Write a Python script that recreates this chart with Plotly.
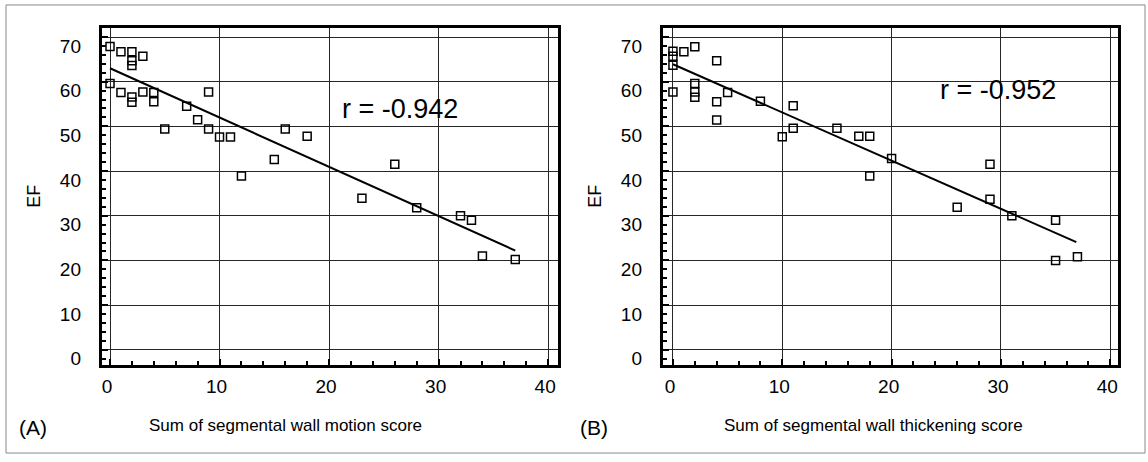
import plotly.graph_objects as go

W, H = 1148, 462

# Panel A: wall motion score vs EF
wm_score = [0, 1, 2, 2, 2, 3, 0, 1, 2, 2, 3, 4, 4, 9, 7, 8, 5, 9, 10, 11, 16, 15, 12, 18, 26, 23, 28, 32, 33, 34, 37]
wm_ef = [67.9, 66.7, 66.7, 64.7, 63.6, 65.7, 59.6, 57.6, 56.6, 55.4, 57.7, 57.6, 55.5, 57.7, 54.5, 51.5,
         49.4, 49.4, 47.6, 47.6, 49.4, 42.6, 38.9, 47.8, 41.5, 33.9, 31.8, 30.0, 29.0, 21.0, 20.2]
wm_fit_x = [0, 37]
wm_fit_y = [63.0, 22.2]
wm_r = "r = -0.942"

# Panel B: wall thickening score vs EF
wt_score = [0, 0, 0, 1, 2, 4, 0, 2, 2, 2, 5, 4, 4, 8, 11, 10, 11, 15, 17, 18, 20, 18, 29, 26, 29, 31, 35, 35, 37]
wt_ef = [66.8, 65.7, 63.7, 66.7, 67.8, 64.7, 57.7, 59.6, 57.7, 56.5, 57.6, 55.5, 51.4, 55.6, 54.6, 47.7,
         49.6, 49.6, 47.8, 47.8, 42.8, 38.9, 41.5, 31.9, 33.7, 30.0, 29.0, 20.0, 20.8]
wt_fit_x = [0, 36.9]
wt_fit_y = [63.9, 24.1]
wt_r = "r = -0.952"

x_ticks = [0, 10, 20, 30, 40]
y_ticks = [0, 10, 20, 30, 40, 50, 60, 70]

FONT = "Liberation Sans, Arial, sans-serif"

def px(x):
    return x / W

def py(y):
    return 1 - y / H

Y_RANGE = [-3.37, 72.07]
Y_LABEL_OFFSET = 2.0      # tick labels printed ~9 px below the grid in the original
XA_RANGE = [-0.73, 40.9]
XB_RANGE = [-0.91, 40.71]
X_LABEL_OFFSET = 0.27     # tick labels printed ~3 px left of the grid

fig = go.Figure()

marker = dict(symbol="square-open", size=8, color="black", line=dict(width=1.5, color="black"))
fig.add_trace(go.Scatter(x=wm_score, y=wm_ef, mode="markers", marker=marker, xaxis="x", yaxis="y", showlegend=False))
fig.add_trace(go.Scatter(x=wm_fit_x, y=wm_fit_y, mode="lines", line=dict(color="black", width=2), xaxis="x", yaxis="y", showlegend=False))
fig.add_trace(go.Scatter(x=wt_score, y=wt_ef, mode="markers", marker=marker, xaxis="x2", yaxis="y2", showlegend=False))
fig.add_trace(go.Scatter(x=wt_fit_x, y=wt_fit_y, mode="lines", line=dict(color="black", width=2), xaxis="x2", yaxis="y2", showlegend=False))
# empty traces so that the label-only axes are drawn
fig.add_trace(go.Scatter(x=[], y=[], mode="markers", xaxis="x3", yaxis="y3", showlegend=False, hoverinfo="skip"))
fig.add_trace(go.Scatter(x=[], y=[], mode="markers", xaxis="x4", yaxis="y4", showlegend=False, hoverinfo="skip"))

TICKFONT = dict(family=FONT, size=19, color="black")
Y_DOMAIN = [py(368), py(28)]

def grid_x(dom, rng, anchor):
    return dict(domain=dom, range=rng, anchor=anchor, tickvals=x_ticks, showticklabels=False,
                showgrid=True, gridcolor="#262626", gridwidth=1, zeroline=False,
                showline=True, linecolor="black", linewidth=2.5, mirror=True,
                ticks="inside", ticklen=6, tickcolor="black", tickwidth=1.5,
                minor=dict(dtick=2, tick0=0, ticks="inside", ticklen=4, tickcolor="black", tickwidth=1.5, showgrid=False))

def grid_y(anchor):
    return dict(domain=Y_DOMAIN, range=Y_RANGE, anchor=anchor, tickvals=y_ticks, showticklabels=False,
                showgrid=True, gridcolor="#262626", gridwidth=1, zeroline=False,
                showline=True, linecolor="black", linewidth=2.5, mirror=True,
                ticks="inside", ticklen=6, tickcolor="black", tickwidth=1.5,
                minor=dict(dtick=2, tick0=0, ticks="inside", ticklen=4, tickcolor="black", tickwidth=1.5, showgrid=False))

def label_x(dom, rng, anchor):
    return dict(domain=dom, anchor=anchor, side="bottom",
                range=[rng[0] + X_LABEL_OFFSET, rng[1] + X_LABEL_OFFSET],
                tickvals=x_ticks, ticktext=[str(v) for v in x_ticks], tickfont=TICKFONT,
                showgrid=False, zeroline=False, showline=False, ticks="", ticklabelstandoff=8)

def label_y(anchor):
    return dict(domain=Y_DOMAIN, anchor=anchor, side="left",
                range=[Y_RANGE[0] + Y_LABEL_OFFSET, Y_RANGE[1] + Y_LABEL_OFFSET],
                tickvals=y_ticks, ticktext=[str(v) for v in y_ticks], tickfont=TICKFONT,
                showgrid=False, zeroline=False, showline=False, ticks="", ticklabelstandoff=20,
                title=dict(text="EF", font=dict(family=FONT, size=18, color="black"), standoff=14))

XA_DOM = [px(102), px(558)]
XB_DOM = [px(663), px(1118)]

fig.update_layout(
    width=W, height=H, margin=dict(l=0, r=0, t=0, b=0),
    paper_bgcolor="white", plot_bgcolor="rgba(0,0,0,0)",
    xaxis=grid_x(XA_DOM, XA_RANGE, "y"),
    yaxis=grid_y("x"),
    xaxis2=grid_x(XB_DOM, XB_RANGE, "y2"),
    yaxis2=grid_y("x2"),
    xaxis3=label_x(XA_DOM, XA_RANGE, "y3"),
    yaxis3=label_y("x3"),
    xaxis4=label_x(XB_DOM, XB_RANGE, "y4"),
    yaxis4=label_y("x4"),
    font=dict(family=FONT, color="black"),
)

ann = [
    dict(text=wm_r, x=px(340), y=py(110), xanchor="left", yanchor="middle", font=dict(size=27)),
    dict(text=wt_r, x=px(938), y=py(91), xanchor="left", yanchor="middle", font=dict(size=27)),
    dict(text="Sum of segmental wall motion score", x=px(285), y=py(429), xanchor="center", yanchor="middle", font=dict(size=17)),
    dict(text="Sum of segmental wall thickening score", x=px(873), y=py(429), xanchor="center", yanchor="middle", font=dict(size=17)),
    dict(text="(A)", x=px(17), y=py(431), xanchor="left", yanchor="middle", font=dict(size=21)),
    dict(text="(B)", x=px(578), y=py(431), xanchor="left", yanchor="middle", font=dict(size=21)),
]
for a in ann:
    a.update(xref="paper", yref="paper", showarrow=False)
    a["font"].update(family=FONT, color="black")
fig.update_layout(annotations=ann)

fig.add_shape(type="rect", xref="paper", yref="paper", x0=px(6), x1=px(1145), y0=py(457), y1=py(5),
              line=dict(color="#8a8a8a", width=1), layer="below")

fig.write_html("out.html")
